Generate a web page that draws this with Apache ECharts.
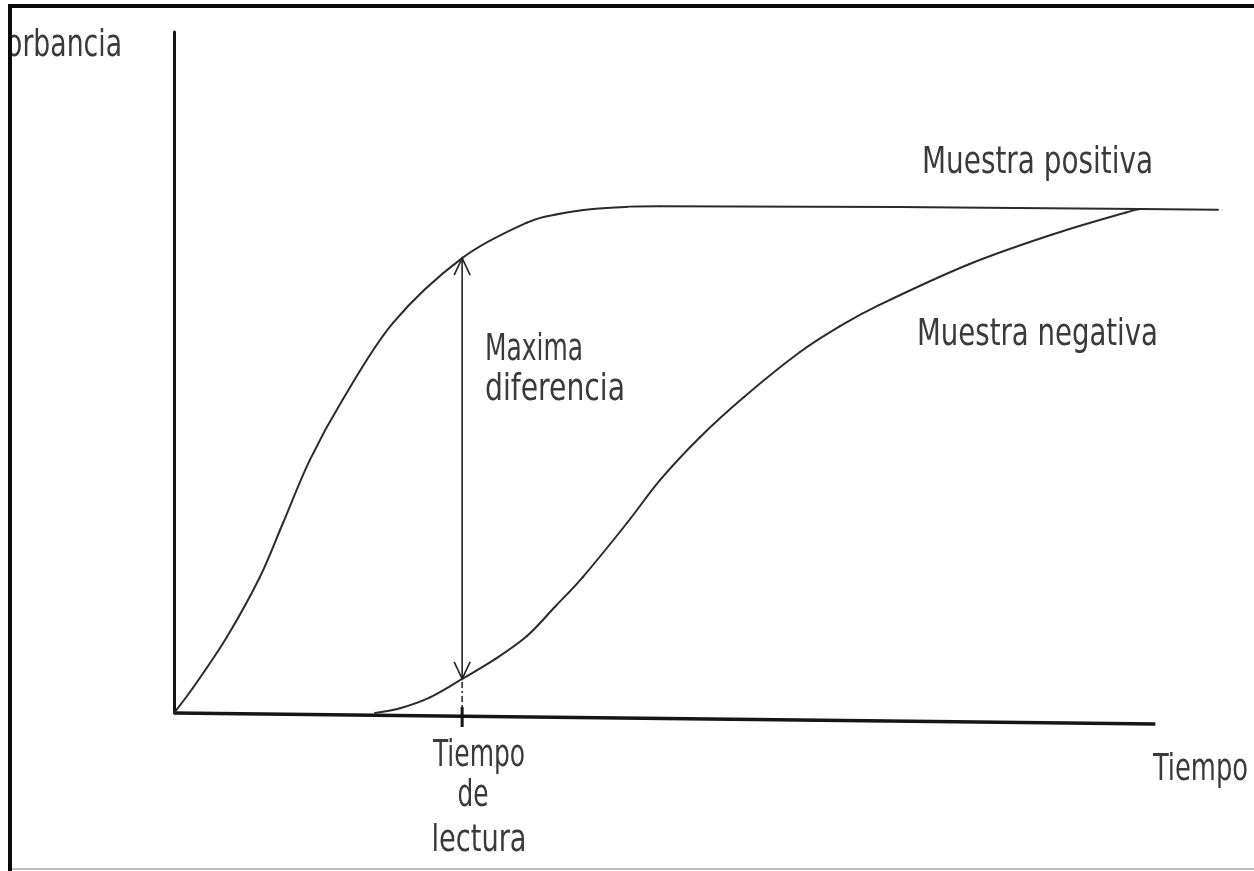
<!DOCTYPE html>
<html>
<head>
<meta charset="utf-8">
<title>Absorbancia frente a tiempo</title>
<script src="https://cdn.jsdelivr.net/npm/echarts@6/dist/echarts.min.js"></script>
<style>
  html, body { margin: 0; padding: 0; background: #ffffff; }
  #chart { width: 1254px; height: 871px; }
</style>
</head>
<body>
<div id="chart"></div>
<script>
// Absorbance (0..1) against time (0..100) for the two samples
const positiveSample = [
  [0, 0], [1.82, 0.037], [5.08, 0.112], [8.24, 0.200], [10.44, 0.279],
  [13.03, 0.372], [16.19, 0.461], [20.98, 0.573], [27.6, 0.668],
  [33.81, 0.720], [36.97, 0.733], [40.13, 0.740], [43.2, 0.743],
  [46.55, 0.744], [69.54, 0.743], [92.53, 0.740], [100, 0.739]
];
const negativeSample = [
  [19.25, 0], [21.65, 0.007], [24.52, 0.023], [27.6, 0.050], [30.75, 0.079],
  [33.81, 0.113], [36.49, 0.156], [39.18, 0.200], [43.39, 0.279],
  [46.55, 0.342], [50.38, 0.405], [54.6, 0.464], [59.96, 0.530],
  [63.79, 0.568], [67.53, 0.599], [76.15, 0.659], [84.2, 0.703],
  [91.19, 0.735], [92.53, 0.740]
];
// Time axis baseline (drawn slightly off-level, as in the drawing)
const timeBaseline = [[0, 0], [94, -0.016]];
// Reading time and the absorbances of both samples at that moment
const readingTime = 27.6;
const readingPoint = [[readingTime, 0.668, 0.050]];

const labelPositive = 'Muestra positiva';
const labelNegative = 'Muestra negativa';
const labelDifference = ['Maxima', 'diferencia'];
const labelReading = ['Tiempo', 'de', 'lectura'];
const xAxisName = 'Tiempo';
const yAxisName = 'Absorbancia';

const FONT_SIZE = 38;
const FONT = "'Liberation Sans Narrow', 'DejaVu Sans Condensed', 'DejaVu Sans', sans-serif";
const INK = '#2b2b2b';

// narrow lettering: each label is squeezed horizontally to its drawn width
const measureCtx = document.createElement('canvas').getContext('2d');
measureCtx.font = FONT_SIZE + 'px ' + FONT;

function txt(text, x, y, width, align, z) {
  const w = measureCtx.measureText(text).width;
  return {
    type: 'text', x: x, y: y, z: z || 10,
    scaleX: width / w, scaleY: 1,
    style: {
      text: text, fill: '#3a3a3a', font: FONT_SIZE + 'px ' + FONT,
      textAlign: align || 'left', textVerticalAlign: 'middle'
    }
  };
}

// Smooth curve through the samples: each item draws the Catmull-Rom
// segment from its point to the next one, in pixel space.
function curveRenderer(color, width) {
  return function (params, api) {
    const i = params.dataIndexInside;
    const n = params.dataInsideLength;
    if (i >= n - 1) return null;
    const pt = function (k) {
      k = Math.max(0, Math.min(n - 1, k));
      return api.coord([api.value(0, k), api.value(1, k)]);
    };
    const p0 = pt(i - 1), p1 = pt(i), p2 = pt(i + 1), p3 = pt(i + 2);
    return {
      type: 'bezierCurve',
      shape: {
        x1: p1[0], y1: p1[1], x2: p2[0], y2: p2[1],
        cpx1: p1[0] + (p2[0] - p0[0]) / 6, cpy1: p1[1] + (p2[1] - p0[1]) / 6,
        cpx2: p2[0] - (p3[0] - p1[0]) / 6, cpy2: p2[1] - (p3[1] - p1[1]) / 6
      },
      style: { stroke: color, lineWidth: width, fill: null, lineCap: 'round' }
    };
  };
}

const chart = echarts.init(document.getElementById('chart'), null, { renderer: 'canvas' });

chart.setOption({
  backgroundColor: '#ffffff',
  animation: false,
  grid: { left: 174, right: 36, top: 32, bottom: 158 },
  xAxis: {
    type: 'value', min: 0, max: 100, show: false
  },
  yAxis: {
    type: 'value', min: 0, max: 1,
    axisLine: { show: true, onZero: false, lineStyle: { color: '#151515', width: 3 } },
    axisTick: { show: false }, axisLabel: { show: false }, splitLine: { show: false }
  },
  series: [
    {
      name: 'eje', type: 'line', data: timeBaseline, clip: false,
      symbol: 'none', lineStyle: { color: '#151515', width: 3.5 }, z: 3
    },
    {
      name: labelPositive, type: 'custom', data: positiveSample, clip: false,
      encode: { x: 0, y: 1 }, renderItem: curveRenderer(INK, 2), z: 4
    },
    {
      name: labelNegative, type: 'custom', data: negativeSample, clip: false,
      encode: { x: 0, y: 1 }, renderItem: curveRenderer(INK, 2), z: 4
    },
    {
      name: 'diferencia', type: 'custom', data: readingPoint, clip: false, z: 5,
      encode: { x: 0, y: [1, 2] },
      renderItem: function (params, api) {
        const x = api.value(0);
        const top = api.coord([x, api.value(1)]);
        const bot = api.coord([x, api.value(2)]);
        const base = api.coord([x, 0]);
        const ax = 8, ay = 17;
        const s = { stroke: '#222', lineWidth: 1.6, fill: null };
        return {
          type: 'group',
          children: [
            { type: 'line', shape: { x1: top[0], y1: top[1], x2: bot[0], y2: bot[1] }, style: s },
            { type: 'polyline', shape: { points: [[top[0] - ax, top[1] + ay], [top[0], top[1]], [top[0] + ax, top[1] + ay]] }, style: s },
            { type: 'polyline', shape: { points: [[bot[0] - ax, bot[1] - ay], [bot[0], bot[1]], [bot[0] + ax, bot[1] - ay]] }, style: s },
            { type: 'line', shape: { x1: bot[0], y1: bot[1] + 3, x2: base[0], y2: base[1] + 2 },
              style: { stroke: '#222', lineWidth: 1.5, lineDash: [6, 3, 2, 3] } },
            { type: 'line', shape: { x1: base[0], y1: base[1] - 6, x2: base[0], y2: base[1] + 14 },
              style: { stroke: '#151515', lineWidth: 3 } }
          ]
        };
      }
    }
  ],
  graphic: [
    txt(yAxisName, 122, 46, 165, 'right', 10),
    txt(labelPositive, 922, 163, 231),
    txt(labelNegative, 917, 335, 241),
    txt(labelDifference[0], 485, 350, 98),
    txt(labelDifference[1], 485, 390, 140),
    txt(labelReading[0], 479, 756, 92, 'center'),
    txt(labelReading[1], 473, 796, 31, 'center'),
    txt(labelReading[2], 479, 841, 95, 'center'),
    txt(xAxisName, 1153, 770, 95),
    // page frame
    { type: 'rect', z: 100, shape: { x: 0, y: 0, width: 8, height: 871 }, style: { fill: '#ffffff' } },
    { type: 'rect', z: 101, shape: { x: 8, y: 4, width: 4, height: 867 }, style: { fill: '#0a0a0a' } },
    { type: 'rect', z: 101, shape: { x: 8, y: 4, width: 1246, height: 4 }, style: { fill: '#0a0a0a' } },
    { type: 'rect', z: 101, shape: { x: 12, y: 868, width: 1242, height: 2 }, style: { fill: '#bdbdbd' } }
  ]
});
</script>
</body>
</html>
